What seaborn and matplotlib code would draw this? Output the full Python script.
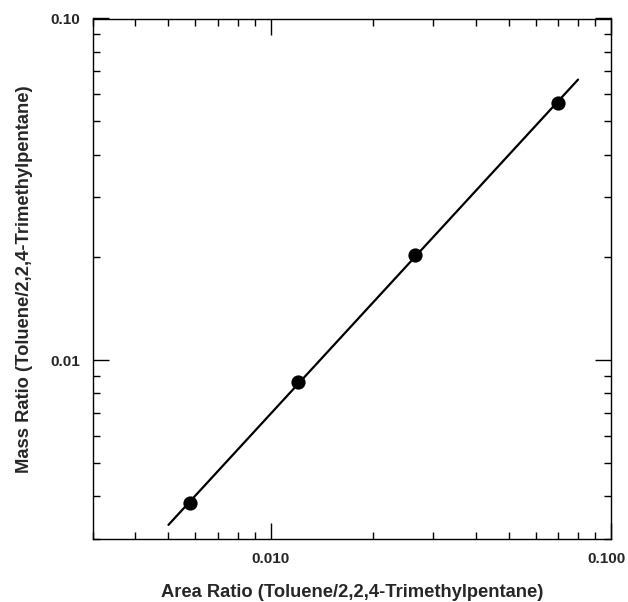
import numpy as np
import pandas as pd
import matplotlib
matplotlib.use("Agg")
import matplotlib.pyplot as plt
import matplotlib.transforms as mtransforms
import seaborn as sns
from matplotlib.ticker import LogLocator, NullFormatter

# Data
area_ratio = [0.00579, 0.01202, 0.02654, 0.0697]
mass_ratio = [0.00382, 0.00862, 0.0203, 0.0565]
fit_range = [0.005, 0.08]
x_ticks = [0.01, 0.1]
x_ticklabels = ["0.010", "0.100"]
y_ticks = [0.01, 0.1]
y_ticklabels = ["0.01", "0.10"]
x_label = "Area Ratio (Toluene/2,2,4-Trimethylpentane)"
y_label = "Mass Ratio (Toluene/2,2,4-Trimethylpentane)"

sns.set_style("ticks")
plt.rcParams["font.family"] = ["Liberation Sans", "DejaVu Sans"]

df = pd.DataFrame({"area": area_ratio, "mass": mass_ratio})

# power-law fit through the points (straight line in log-log)
slope, intercept = np.polyfit(np.log10(df["area"]), np.log10(df["mass"]), 1)
fx = np.array(fit_range)
fit_df = pd.DataFrame({"area": fx, "mass": 10 ** (intercept + slope * np.log10(fx))})

fig = plt.figure(figsize=(6.28, 6.02), dpi=100)
ax = fig.add_axes([93 / 628, 1 - 539 / 602, (611 - 93) / 628, (539 - 18.5) / 602])

sns.lineplot(data=fit_df, x="area", y="mass", ax=ax, color="black", linewidth=1.6)
sns.scatterplot(data=df, x="area", y="mass", ax=ax, color="black", s=105,
                edgecolor="black", linewidth=0, zorder=3)

ax.set_xscale("log")
ax.set_yscale("log")
ax.set_xlim(0.003, 0.1)
ax.set_ylim(0.003, 0.1)

ax.set_xticks(x_ticks)
ax.set_xticklabels(x_ticklabels)
ax.set_yticks(y_ticks)
ax.set_yticklabels(y_ticklabels)
ax.xaxis.set_minor_locator(LogLocator(base=10, subs=np.arange(2, 10)))
ax.yaxis.set_minor_locator(LogLocator(base=10, subs=np.arange(2, 10)))
ax.xaxis.set_minor_formatter(NullFormatter())
ax.yaxis.set_minor_formatter(NullFormatter())

ax.tick_params(which="both", direction="in", top=True, right=True, color="black", width=1.0)
ax.tick_params(which="major", length=11.5, labelsize=11, pad=9.5)
ax.tick_params(which="minor", length=5)
for lab in ax.get_xticklabels() + ax.get_yticklabels():
    lab.set_fontweight("bold")

# keep the right-most label inside the figure
last = ax.get_xticklabels()[-1]
last.set_transform(last.get_transform() +
                   mtransforms.ScaledTranslation(-3 / 72, 0, fig.dpi_scale_trans))

for sp in ax.spines.values():
    sp.set_visible(True)
    sp.set_color("black")
    sp.set_linewidth(1.0)

ax.set_xlabel(x_label, fontsize=13.2, fontweight="bold", labelpad=13)
ax.set_ylabel(y_label, fontsize=13.2, fontweight="bold", labelpad=12)

fig.savefig("out.png", dpi=100)
